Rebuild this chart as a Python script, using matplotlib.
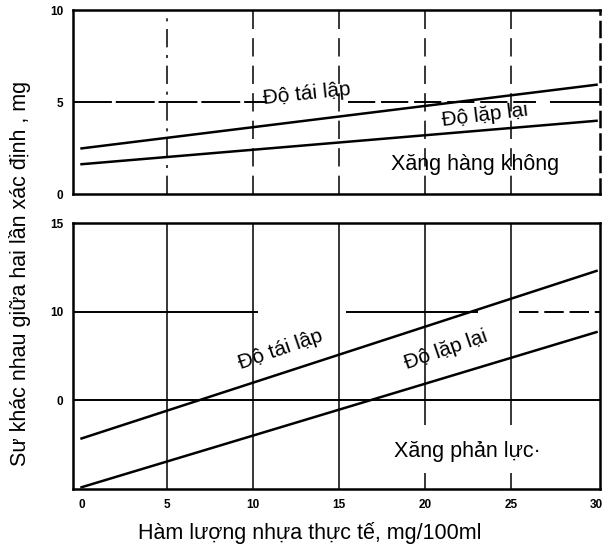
import matplotlib
matplotlib.use('Agg')
from matplotlib import pyplot as plt

plt.rcParams['font.family'] = ['Liberation Sans', 'DejaVu Sans']

# x range of the lines (mg/100ml)
x_ends = [0, 30]

# top panel: Xăng hàng không
top_tai_lap = [2.48, 5.94]
top_lap_lai = [1.62, 3.98]

# bottom panel: Xăng phản lực
bot_tai_lap = [2.85, 12.3]
bot_lap_lai = [0.1, 8.85]

x_ticks = [0, 5, 10, 15, 20, 25, 30]
x_tick_labels = ['0', '5', '10', '15', '20', '25', '30']
top_y_ticks = [0, 5, 10]
top_y_tick_labels = ['0', '5', '10']
bot_y_ticks = [5, 10, 15]
bot_y_tick_labels = ['0', '10', '15']

fig = plt.figure(figsize=(6.08, 5.47), dpi=100)
ax1 = fig.add_axes([0.120, 0.6453, 0.8668, 0.3364])
ax2 = fig.add_axes([0.120, 0.106, 0.8668, 0.4863])

for ax in (ax1, ax2):
    ax.set_xlim(-0.5, 30.2)
    for s in ax.spines.values():
        s.set_linewidth(1.8)
    ax.tick_params(length=0, labelsize=8.5, pad=7)

# top panel
ax1.set_ylim(0, 10)
ax1.set_xticks([])
ax1.set_yticks(top_y_ticks)
ax1.set_yticklabels(top_y_tick_labels, fontweight='bold')
ax1.spines['right'].set_linestyle((0, (6, 3)))
ax1.hlines(5, -0.5, 10.8, color='black', lw=1.4, ls=(0, (20, 2)))
ax1.hlines(5, 15.5, 26.5, color='black', lw=1.4, ls=(0, (14, 3)))
ax1.hlines(5, 27.3, 30.2, color='black', lw=1.4)
ax1.axvline(5, color='black', lw=1.1, ls=(0, (12, 5, 2, 5)))
for xv in x_ticks[2:-1]:
    ax1.axvline(xv, color='black', lw=1.1, ls=(0, (12, 6)))
ax1.plot(x_ends, top_tai_lap, color='black', lw=1.8)
ax1.plot(x_ends, top_lap_lai, color='black', lw=1.8)
ax1.text(13.1, 5.45, 'Độ tái lập', fontsize=15, rotation=6, ha='center', va='center')
ax1.text(23.5, 4.3, 'Độ lặp lại', fontsize=15, rotation=7, ha='center', va='center')
ax1.text(22.9, 1.6, 'Xăng hàng không', fontsize=15.5, ha='center', va='center')

# bottom panel
ax2.set_ylim(0, 15)
ax2.set_yticks(bot_y_ticks)
ax2.set_yticklabels(bot_y_tick_labels, fontweight='bold')
ax2.set_xticks(x_ticks)
ax2.set_xticklabels(x_tick_labels, fontweight='bold')
ax2.hlines(10, -0.5, 10.3, color='black', lw=1.4)
ax2.hlines(10, 15.4, 23.1, color='black', lw=1.4)
ax2.hlines(10, 25.5, 30.2, color='black', lw=1.4, ls=(0, (10, 3)))
ax2.axhline(5, color='black', lw=1.4)
for xv in x_ticks[1:4]:
    ax2.axvline(xv, color='black', lw=1.1)
for xv in x_ticks[4:6]:
    ax2.vlines(xv, 0, 0.9, color='black', lw=1.1)
    ax2.vlines(xv, 3.6, 15, color='black', lw=1.1)
ax2.plot(x_ends, bot_tai_lap, color='black', lw=1.8)
ax2.plot(x_ends, bot_lap_lai, color='black', lw=1.8)
ax2.text(11.6, 7.85, 'Độ tái lập', fontsize=15, rotation=19, ha='center', va='center')
ax2.text(21.2, 7.85, 'Độ lặp lại', fontsize=15, rotation=19, ha='center', va='center')
ax2.text(22.5, 2.1, 'Xăng phản lực·', fontsize=15.5, ha='center', va='center')

fig.text(0.51, 0.026, 'Hàm lượng nhựa thực tế, mg/100ml', fontsize=15.5,
         ha='center', va='center')
fig.text(0.033, 0.50, 'Sư khác nhau giữa hai lần xác định , mg', rotation=90,
         fontsize=15.5, ha='center', va='center')

fig.savefig('out.png', dpi=100)
